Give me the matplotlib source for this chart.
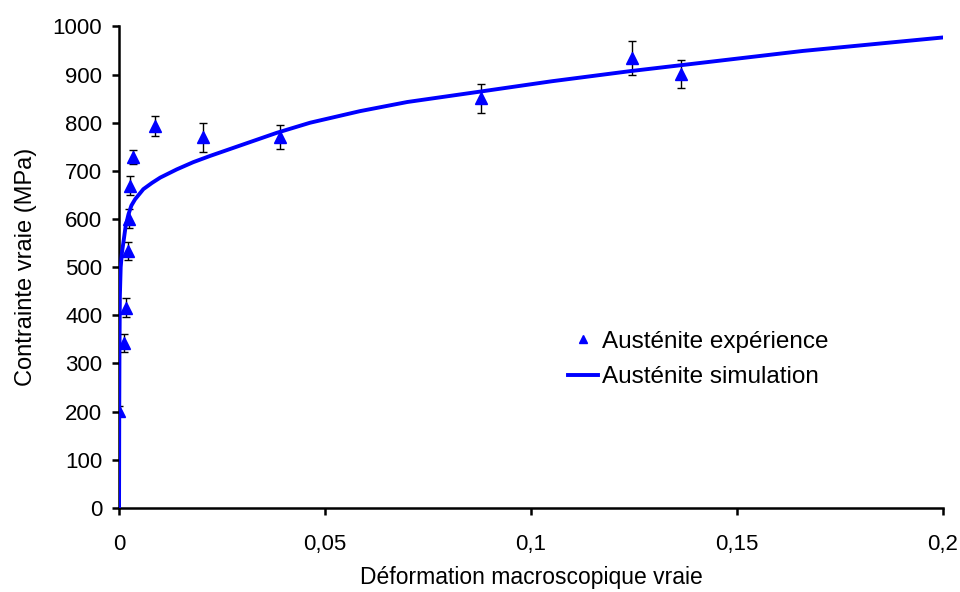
import matplotlib.pyplot as plt

plt.rcParams['font.family'] = ['Liberation Sans', 'DejaVu Sans']

# points expérimentaux (déformation, contrainte, barre d'erreur)
exp_def = [0.0000, 0.0012, 0.0017, 0.0021, 0.0025, 0.0027, 0.0035, 0.0087, 0.0203, 0.0390, 0.0880, 0.1245, 0.1365]
exp_contr = [201, 343, 416, 534, 601, 669, 729, 793, 770, 770, 851, 935, 902]
exp_err = [10, 19, 19, 19, 19, 20, 15, 20, 30, 25, 30, 35, 29]

# courbe simulée
sim_def = [0.0, 0.00005, 0.0001, 0.0002, 0.0004, 0.0007, 0.0011, 0.0016, 0.0023, 0.0030,
           0.0039, 0.0059, 0.0080, 0.0100, 0.0140, 0.0180, 0.0221, 0.0302, 0.0383, 0.0464,
           0.0585, 0.0700, 0.0880, 0.1050, 0.1240, 0.1450, 0.1660, 0.1830, 0.2000]
sim_contr = [0, 200, 320, 440, 500, 530, 554, 585, 610, 628,
             641, 662, 675, 686, 703, 718, 731, 755, 779, 800,
             824, 843, 865, 886, 907, 928, 949, 963, 977]

fig, ax = plt.subplots(figsize=(9.6, 5.92), dpi=100)
fig.subplots_adjust(left=0.124, right=0.982, bottom=0.142, top=0.9554)

ax.errorbar(exp_def, exp_contr, yerr=exp_err, fmt='none', ecolor='black',
            elinewidth=1, capsize=3.2, capthick=1, zorder=2)
ax.plot(sim_def, sim_contr, color='#0000ff', lw=2.8, label='Austénite simulation',
        solid_joinstyle='round', zorder=3)
ax.plot(exp_def, exp_contr, '^', color='#0000ff', ms=8, label='Austénite expérience', zorder=4)

ax.set_xlim(0, 0.2)
ax.set_ylim(0, 1000)
ax.set_xticks([0, 0.05, 0.1, 0.15, 0.2])
ax.set_xticklabels(['0', '0,05', '0,1', '0,15', '0,2'])
ax.set_yticks(range(0, 1001, 100))
ax.tick_params(labelsize=16, width=1.8, length=5, direction='out')
ax.tick_params(axis='y', pad=7)
ax.tick_params(axis='x', pad=14)
for s in ['top', 'right']:
    ax.spines[s].set_visible(False)
for s in ['left', 'bottom']:
    ax.spines[s].set_linewidth(1.8)

ax.set_xlabel('Déformation macroscopique vraie', fontsize=16.5, labelpad=8)
ax.set_ylabel('Contrainte vraie (MPa)', fontsize=17, labelpad=11)

h, l = ax.get_legend_handles_labels()
ax.legend([h[1], h[0]], [l[1], l[0]], loc='upper left', bbox_to_anchor=(0.545, 0.368),
          bbox_transform=ax.transAxes, frameon=False, fontsize=17.5, handlelength=1.25,
          handletextpad=0.15, labelspacing=0.55, markerscale=0.7, borderpad=0,
          borderaxespad=0)

fig.savefig('out.png')
